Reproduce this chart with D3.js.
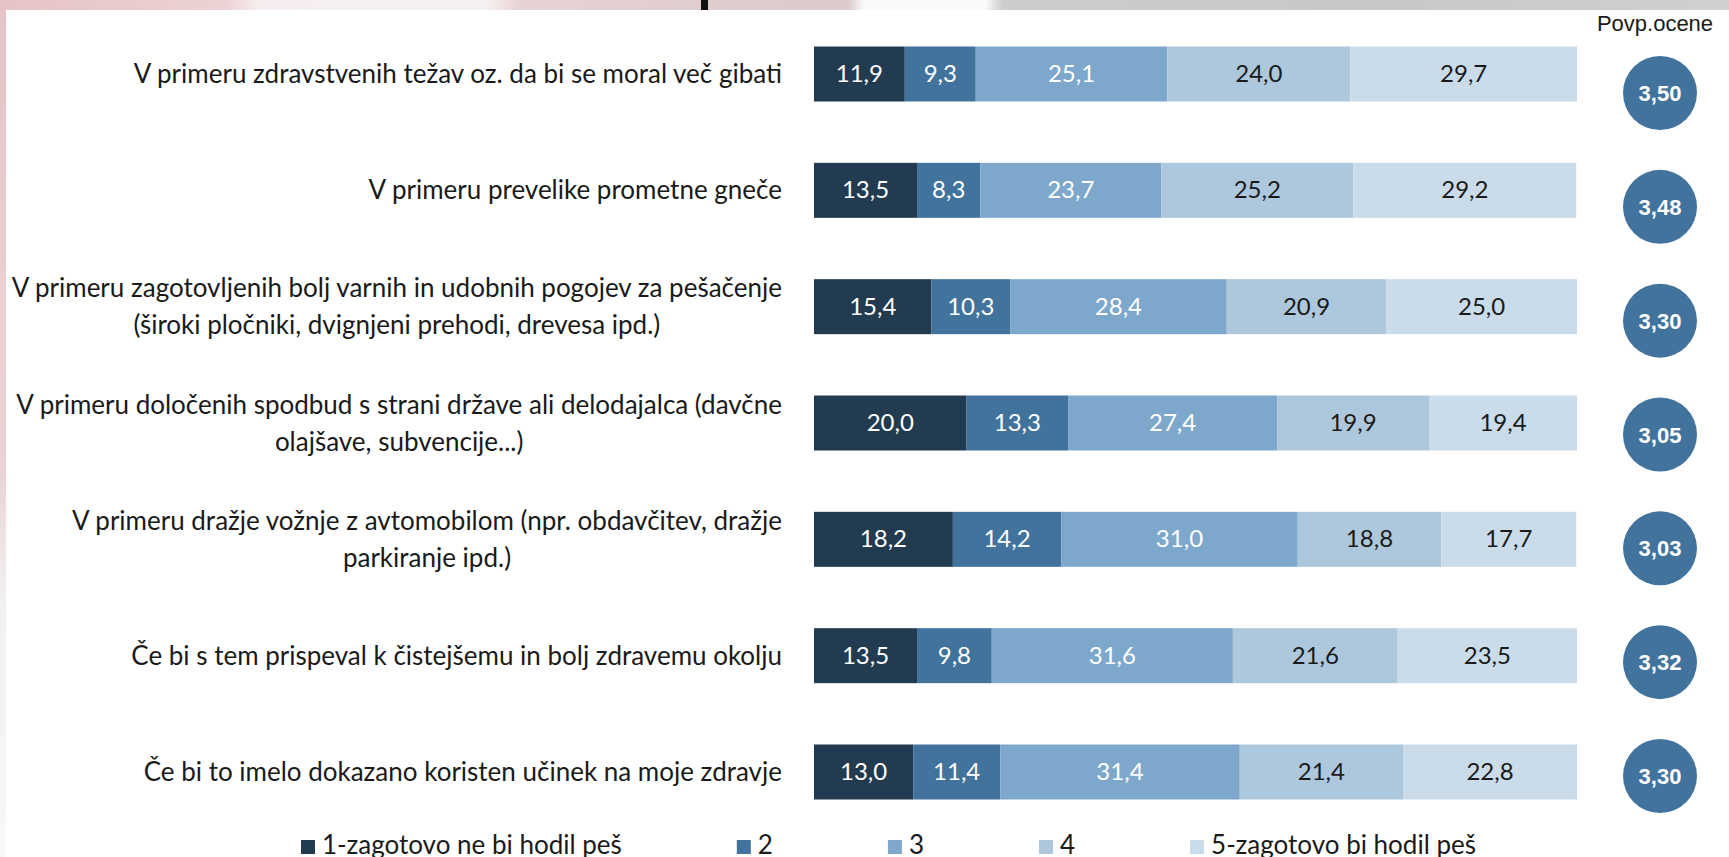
<!DOCTYPE html>
<html lang="sl">
<head>
<meta charset="utf-8">
<title>Pripravljenost za hojo</title>
<script src="https://d3js.org/d3.v7.min.js"></script>
<style>
html, body { margin: 0; padding: 0; background: #fff; overflow: hidden; }
svg { display: block; }
.lbl { font-family: Lato, "Open Sans", sans-serif; font-size: 26px; fill: #1a1a1a; }
.val { font-family: Lato, "Open Sans", sans-serif; font-size: 24px; }
.avg { font-family: "Liberation Sans", Arial, sans-serif; font-size: 22px; font-weight: bold; fill: #fff; }
.head { font-family: "Liberation Sans", Arial, sans-serif; font-size: 22px; fill: #1a1a1a; }
</style>
</head>
<body>
<div id="chart"></div>
<script>
// question labels (line breaks as in the slide)
var questions = [
  ["V primeru zdravstvenih težav oz. da bi se moral več gibati"],
  ["V primeru prevelike prometne gneče"],
  ["V primeru zagotovljenih bolj varnih in udobnih pogojev za pešačenje", "(široki pločniki, dvignjeni prehodi, drevesa ipd.)"],
  ["V primeru določenih spodbud s strani države ali delodajalca (davčne", "olajšave, subvencije...)"],
  ["V primeru dražje vožnje z avtomobilom (npr. obdavčitev, dražje", "parkiranje ipd.)"],
  ["Če bi s tem prispeval k čistejšemu in bolj zdravemu okolju"],
  ["Če bi to imelo dokazano koristen učinek na moje zdravje"]
];

var legendLabels = ["1-zagotovo ne bi hodil peš", "2", "3", "4", "5-zagotovo bi hodil peš"];

// shares in %
var ans1 = [11.9, 13.5, 15.4, 20.0, 18.2, 13.5, 13.0];
var ans2 = [9.3, 8.3, 10.3, 13.3, 14.2, 9.8, 11.4];
var ans3 = [25.1, 23.7, 28.4, 27.4, 31.0, 31.6, 31.4];
var ans4 = [24.0, 25.2, 20.9, 19.9, 18.8, 21.6, 21.4];
var ans5 = [29.7, 29.2, 25.0, 19.4, 17.7, 23.5, 22.8];

// average scores
var averages = [3.50, 3.48, 3.30, 3.05, 3.03, 3.32, 3.30];

var colors = ["#223b50", "#41739c", "#7ea8cb", "#adc7dd", "#cadcea"];
var textColors = ["#fff", "#fff", "#fff", "#1a1a1a", "#1a1a1a"];

var W = 1729, H = 857;
var keys = ["a1", "a2", "a3", "a4", "a5"];
var series = [ans1, ans2, ans3, ans4, ans5];

var rows = questions.map(function(q, i) {
  var r = { id: i, label: q, avg: averages[i] };
  keys.forEach(function(k, j) { r[k] = series[j][i]; });
  return r;
});

var sl = d3.formatLocale({ decimal: ",", thousands: ".", grouping: [3], currency: ["", "€"] });
var f1 = sl.format(".1f"), f2 = sl.format(".2f");

var svg = d3.select("#chart").append("svg")
  .attr("width", W).attr("height", H);

// blurred slide background peeking around the edges
var defs = svg.append("defs");
var gTop = defs.append("linearGradient").attr("id", "topStrip");
[[0, "#e6c3c6"], [0.13, "#ecd2d4"], [0.15, "#f6eeee"], [0.28, "#f7f2f2"], [0.3, "#e7d3d5"],
 [0.49, "#dcc9ca"], [0.5, "#fbfbfb"], [0.57, "#fafafa"], [0.58, "#cfcccc"], [0.8, "#c9c8c6"], [1, "#d2d0cf"]]
  .forEach(function(s) { gTop.append("stop").attr("offset", s[0]).attr("stop-color", s[1]); });
var gLeft = defs.append("linearGradient").attr("id", "leftStrip")
  .attr("x1", 0).attr("x2", 0).attr("y1", 0).attr("y2", 1);
[[0, "#e6c3c6"], [0.35, "#eccfd1"], [0.55, "#e9d3d4"], [0.7, "#f2f0f0"], [1, "#f8f8f8"]]
  .forEach(function(s) { gLeft.append("stop").attr("offset", s[0]).attr("stop-color", s[1]); });

svg.append("rect").attr("width", W).attr("height", 10).attr("fill", "url(#topStrip)");
svg.append("rect").attr("width", 6).attr("height", H).attr("fill", "url(#leftStrip)");
svg.append("rect").attr("x", 701).attr("y", 0).attr("width", 7).attr("height", 10).attr("fill", "#111");
svg.append("rect").attr("x", 6).attr("y", 10).attr("width", W - 6).attr("height", H - 10).attr("fill", "#fff");

// scales
var x = d3.scaleLinear().domain([0, 100]).range([814, 1577]);
var y = d3.scalePoint().domain(d3.range(rows.length)).range([74, 772]);
var yc = d3.scalePoint().domain(d3.range(rows.length)).range([93, 776]);
var barH = 55;

var stacked = d3.stack().keys(keys)(rows);

var layer = svg.selectAll(".layer")
  .data(stacked)
  .enter().append("g")
  .attr("class", "layer")
  .attr("fill", function(d, i) { return colors[i]; });

layer.selectAll("rect")
  .data(function(d) { return d; })
  .enter().append("rect")
  .attr("x", function(d) { return x(d[0]); })
  .attr("y", function(d) { return y(d.data.id) - barH / 2; })
  .attr("width", function(d) { return x(d[1]) - x(d[0]); })
  .attr("height", barH);

layer.selectAll("text")
  .data(function(d, i) { return d.map(function(p) { return { p: p, k: i }; }); })
  .enter().append("text")
  .attr("class", "val")
  .attr("text-anchor", "middle")
  .attr("x", function(d) { return (x(d.p[0]) + x(d.p[1])) / 2; })
  .attr("y", function(d) { return y(d.p.data.id) + 8; })
  .attr("fill", function(d) { return textColors[d.k]; })
  .text(function(d) { return f1(d.p[1] - d.p[0]); });

// question labels: right aligned block, lines centred inside it
var labelRight = 782, lineGap = 37;
rows.forEach(function(r) {
  var g = svg.append("g");
  var n = r.label.length;
  var texts = r.label.map(function(line, j) {
    return g.append("text").attr("class", "lbl")
      .attr("y", y(r.id) + 9 + (j - (n - 1) / 2) * lineGap)
      .text(line);
  });
  var maxW = d3.max(texts, function(t) { return t.node().getComputedTextLength(); });
  texts.forEach(function(t) {
    t.attr("text-anchor", "middle").attr("x", labelRight - maxW / 2);
  });
});

// averages
svg.append("text").attr("class", "head")
  .attr("x", 1655).attr("y", 31)
  .attr("text-anchor", "middle")
  .text("Povp.ocene");

var circ = svg.selectAll(".avgc").data(rows).enter().append("g").attr("class", "avgc");
circ.append("circle")
  .attr("cx", 1660)
  .attr("cy", function(d) { return yc(d.id); })
  .attr("r", 37)
  .attr("fill", "#41739c");
circ.append("text").attr("class", "avg")
  .attr("x", 1660)
  .attr("y", function(d) { return yc(d.id) + 8; })
  .attr("text-anchor", "middle")
  .text(function(d) { return f2(d.avg); });

// legend, flowing left to right
var lx = 301;
legendLabels.forEach(function(name, i) {
  svg.append("rect").attr("x", lx).attr("y", 840).attr("width", 14).attr("height", 14).attr("fill", colors[i]);
  var t = svg.append("text").attr("class", "lbl")
    .attr("x", lx + 21).attr("y", 854)
    .text(name);
  lx += 21 + t.node().getComputedTextLength() + 115;
});
</script>
</body>
</html>
